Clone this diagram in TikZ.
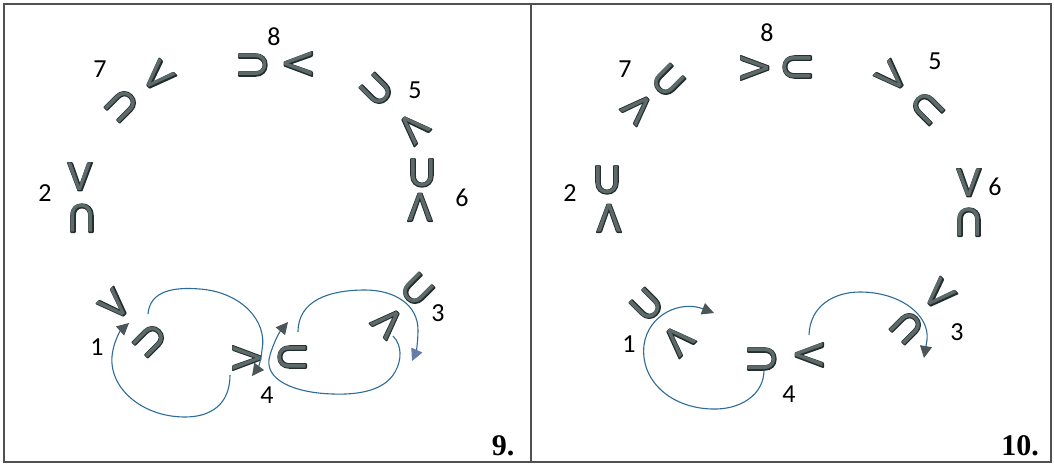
\documentclass[tikz,border=0pt]{standalone}
\usepackage{fontspec}
\setmainfont{Carlito}
\newfontfamily\panelfont{Liberation Serif}
\usetikzlibrary{arrows.meta}
\definecolor{glyphgray}{RGB}{92,106,106}
\definecolor{glyphedge}{RGB}{36,44,44}
\definecolor{tipgray}{RGB}{74,86,88}
\definecolor{tipblue}{RGB}{104,124,168}
\definecolor{linkblue}{RGB}{44,108,152}
\definecolor{framegray}{RGB}{80,80,80}
% letter with a dark rim, as in the scan
\newcommand\rimmed[1]{{\color{glyphedge}\rlap{\special{pdf:literal direct 2 Tr 1.8 w 1 j}#1\special{pdf:literal direct 0 Tr 0.4 w 0 j}}}{\color{glyphgray}#1}}
\tikzstyle{piece}=[inner sep=0pt, font=\fontsize{43}{43}\selectfont, text height=27pt, text depth=0pt]
\tikzstyle{num}=[inner sep=0pt, font=\fontsize{26}{26}\selectfont]
\tikzstyle{panelnum}=[inner sep=0pt, font=\panelfont\fontsize{30}{30}\selectfont\bfseries]
\tikzstyle{link}=[draw=linkblue, line width=1.1pt, -{Triangle[length=12pt, width=12pt, color=tipgray]}]

\begin{document}
\begin{tikzpicture}[x=1pt, y=1pt]
	\useasboundingbox (0,0) rectangle (1054,-464);

	% Frames of the two panels
	\draw[framegray, line width=1.6pt] (4,-4) rectangle (531,-462);
	\draw[framegray, line width=1.6pt] (531,-4) rectangle (1051,-462);

	% Panel 9
	\foreach \name/\x/\y/\r in {a2/80/177/0, a7/158/77/-45, a8/298/64/-90, a5/413/128/-135,
		a6/420/207/180, a1/115/305/45, a4/247/358/90, a3/388/322/135}{
		\node[piece, rotate=\r] (v\name) at (\x,-\y) {\rimmed{V}};
	}
	\foreach \name/\x/\y/\r in {a2/82/218/180, a7/122/105/135, a8/253/65/90, a5/377/90/45,
		a6/422/173/0, a1/150/340/135, a4/292/357/-90, a3/417/290/-45}{
		\node[piece, rotate=\r] (u\name) at (\x,-\y) {\rimmed{U}};
	}
	\foreach \name/\x/\y in {7/100/69, 8/274/37, 5/415/90, 2/45/193, 6/462/198, 1/97/347, 4/267/395, 3/438/313}{
		\node[num] (na\name) at (\x,-\y) {\name};
	}
	\node[panelnum] (nine) at (503,-446) {9.};

	\coordinate (sa1) at (230,-375);  \coordinate (ea1) at (129,-323);
	\coordinate (sa4) at (148,-314);  \coordinate (ea4) at (252,-376);
	\coordinate (sa3) at (298,-332);  \coordinate (ea3) at (412,-361);
	\coordinate (sa0) at (393,-336);  \coordinate (ea0) at (288,-322);

	\draw[link] (sa1) .. controls (230,-405) and (210,-417) .. (185,-417)
		.. controls (140,-417) and (105,-385) .. (113,-350)
		.. controls (115,-340) and (120,-331) .. (ea1);
	\draw[link] (sa4) .. controls (150,-290) and (175,-287) .. (200,-289)
		.. controls (240,-292) and (268,-320) .. (262,-350)
		.. controls (261,-360) and (258,-368) .. (ea4);
	\draw[link, -{Triangle[length=12pt, width=12pt, color=tipblue]}] (sa3)
		.. controls (298,-300) and (330,-290) .. (365,-290)
		.. controls (395,-290) and (418,-305) .. (418,-330)
		.. controls (418,-342) and (416,-352) .. (ea3);
	\draw[link] (sa0) .. controls (402,-345) and (402,-360) .. (395,-372)
		.. controls (385,-390) and (360,-395) .. (333,-394)
		.. controls (295,-393) and (262,-380) .. (270,-355)
		.. controls (273,-345) and (278,-334) .. (ea0);

	% Panel 10
	\foreach \name/\x/\y/\r in {b2/609/218/180, b7/638/108/135, b8/755/68/90, b5/892/77/45,
		b6/969/183/0, b1/678/340/-135, b4/809/355/-90, b3/939/295/-45}{
		\node[piece, rotate=\r] (v\name) at (\x,-\y) {\rimmed{V}};
	}
	\foreach \name/\x/\y/\r in {b2/607/180/0, b7/668/81/-45, b8/797/67/-90, b5/927/108/-135,
		b6/969/222/180, b1/647/305/45, b4/762/359/90, b3/907/327/135}{
		\node[piece, rotate=\r] (u\name) at (\x,-\y) {\rimmed{U}};
	}
	\foreach \name/\x/\y in {7/625/69, 8/767/33, 5/935/61, 2/570/193, 6/995/187, 1/629/344, 4/789/394, 3/957/332}{
		\node[num] (nb\name) at (\x,-\y) {\name};
	}
	\node[panelnum] (ten) at (1020,-446) {10.};

	\coordinate (sb1) at (764,-370);  \coordinate (eb1) at (714,-313);
	\coordinate (sb3) at (809,-335);  \coordinate (eb3) at (924,-358);

	\draw[link] (sb1) .. controls (764,-395) and (740,-410) .. (712,-409)
		.. controls (670,-408) and (640,-380) .. (644,-345)
		.. controls (648,-315) and (680,-300) .. (eb1);
	\draw[link] (sb3) .. controls (810,-305) and (835,-292) .. (860,-292)
		.. controls (900,-292) and (930,-315) .. (927,-340)
		.. controls (926,-346) and (925,-352) .. (eb3);
\end{tikzpicture}
\end{document}
